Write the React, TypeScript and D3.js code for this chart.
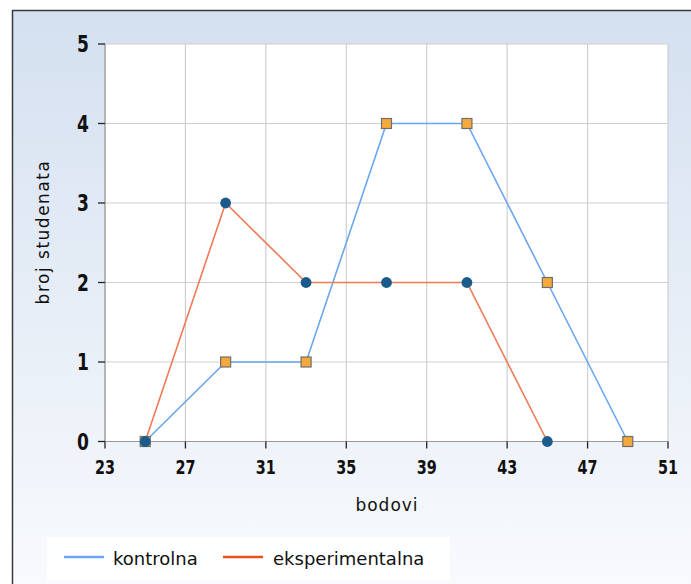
import React from "react";
import * as d3 from "d3";

const xTicks = [23, 27, 31, 35, 39, 43, 47, 51];
const yTicks = [0, 1, 2, 3, 4, 5];
const kontrolnaX = [25, 29, 33, 37, 41, 45, 49];
const kontrolnaY = [0, 1, 1, 4, 4, 2, 0];
const eksperX = [25, 29, 33, 37, 41, 45];
const eksperY = [0, 3, 2, 2, 2, 0];
const seriesNames = ["kontrolna", "eksperimentalna"];

const W = 691;
const H = 584;
const left = 105;
const right = 668;
const top = 44;
const bottom = 441.5;

export default function App() {
  const x = d3.scaleLinear().domain([23, 51]).range([left, right]);
  const y = d3.scaleLinear().domain([0, 5]).range([bottom, top]);
  const line = d3
    .line<[number, number]>()
    .x((d) => x(d[0]))
    .y((d) => y(d[1]));
  const kData: [number, number][] = kontrolnaX.map((v, i) => [v, kontrolnaY[i]]);
  const eData: [number, number][] = eksperX.map((v, i) => [v, eksperY[i]]);
  const blue = "#6aa6ee";
  const orange = "#ef7a55";
  const font = "'DejaVu Sans', Verdana, sans-serif";
  const cond = "'DejaVu Sans Condensed', 'DejaVu Sans', sans-serif";

  return (
    <svg
      width={W}
      height={H}
      style={{ position: "absolute", left: 0, top: 0, display: "block" }}
    >
      <defs>
        <linearGradient id="bg" x1="0" y1="0" x2="0" y2="1">
          <stop offset="0" stopColor="#d4e0f0" />
          <stop offset="1" stopColor="#f8fafd" />
        </linearGradient>
      </defs>
      <rect x={0} y={0} width={W} height={H} fill="#ffffff" />
      <rect x={12} y={10} width={W - 12} height={H - 10} fill="url(#bg)" />
      <line x1={12} y1={10.5} x2={W} y2={10.5} stroke="#3a3a3a" strokeWidth={1.5} />
      <line x1={12.5} y1={10} x2={12.5} y2={H} stroke="#3a3a3a" strokeWidth={1.5} />

      <rect x={left} y={top} width={right - left} height={bottom - top} fill="#ffffff" />
      {xTicks.map((t) => (
        <line key={"gx" + t} x1={x(t)} x2={x(t)} y1={top} y2={bottom} stroke="#cfcfcf" strokeWidth={1.2} />
      ))}
      {yTicks.map((t) => (
        <line key={"gy" + t} x1={left} x2={right} y1={y(t)} y2={y(t)} stroke="#cfcfcf" strokeWidth={1.2} />
      ))}
      <line x1={left} x2={left} y1={top} y2={bottom} stroke="#9a9a9a" strokeWidth={1.2} />
      <line x1={left} x2={right} y1={bottom} y2={bottom} stroke="#9a9a9a" strokeWidth={1.2} />

      {yTicks.map((t) => (
        <g key={"yt" + t}>
          <line x1={left - 7} x2={left} y1={y(t)} y2={y(t)} stroke="#222" strokeWidth={1.3} />
          <text
            transform={`translate(${left - 16},${y(t) + 8}) scale(1,1.22)`}
            textAnchor="end"
            fontFamily={cond}
            fontWeight="bold"
            fontSize={19}
            fill="#111"
          >
            {t}
          </text>
        </g>
      ))}
      {xTicks.map((t) => (
        <g key={"xt" + t}>
          <line x1={x(t)} x2={x(t)} y1={bottom} y2={bottom + 7} stroke="#222" strokeWidth={1.3} />
          <text
            transform={`translate(${x(t)},${474}) scale(1,1.18)`}
            textAnchor="middle"
            fontFamily={cond}
            fontWeight="bold"
            fontSize={16}
            fill="#111"
          >
            {t}
          </text>
        </g>
      ))}

      <text
        x={387}
        y={511}
        textAnchor="middle"
        fontFamily={font}
        fontSize={17}
        letterSpacing={1}
        fill="#111"
      >
        bodovi
      </text>
      <text
        transform={`translate(49,${232}) rotate(-90)`}
        textAnchor="middle"
        fontFamily={font}
        fontSize={17}
        letterSpacing={1.5}
        fill="#111"
      >
        broj studenata
      </text>

      <path d={line(kData) || ""} fill="none" stroke={blue} strokeWidth={1.6} />
      <path d={line(eData) || ""} fill="none" stroke={orange} strokeWidth={1.6} />
      {kData.map((d, i) => (
        <rect
          key={"k" + i}
          x={x(d[0]) - 5}
          y={y(d[1]) - 5}
          width={10}
          height={10}
          fill="#f5a93a"
          stroke="#6e6e6e"
          strokeWidth={1.2}
        />
      ))}
      {eData.map((d, i) => (
        <circle key={"e" + i} cx={x(d[0])} cy={y(d[1])} r={5.4} fill="#1a5b8c" />
      ))}

      <rect x={47} y={537} width={403} height={43} fill="#ffffff" opacity={0.9} />
      <line x1={64} x2={104} y1={557} y2={557} stroke={blue} strokeWidth={2.5} />
      <text x={113} y={565} fontFamily={font} fontSize={18} fill="#111">
        {seriesNames[0]}
      </text>
      <line x1={223} x2={263} y1={557} y2={557} stroke="#e8511c" strokeWidth={2.5} />
      <text x={273} y={565} fontFamily={font} fontSize={18} fill="#111">
        {seriesNames[1]}
      </text>
    </svg>
  );
}
